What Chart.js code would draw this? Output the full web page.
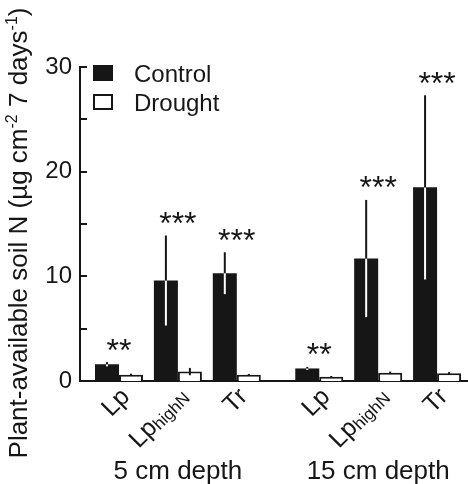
<!DOCTYPE html>
<html>
<head>
<meta charset="utf-8">
<script src="https://cdn.jsdelivr.net/npm/chart.js@4.4.1/dist/chart.umd.min.js"></script>
<style>
  html, body { margin: 0; padding: 0; background: #fff; overflow: hidden; }
  #wrap { width: 468px; height: 484px; }
  canvas { display: block; }
</style>
</head>
<body>
<div id="wrap"><canvas id="chart" width="468" height="484"></canvas></div>
<script>
// plant-available soil N, means and errors
const categories = ['Lp', 'LphighN', 'Tr', 'Lp', 'LphighN', 'Tr'];
const xPositions = [0, 1, 2, 3.4, 4.4, 5.4];
const groups = ['5 cm depth', '15 cm depth'];
const controlMeans = [1.6, 9.6, 10.3, 1.2, 11.7, 18.5];
const controlErr = [0.2, 4.3, 2.0, 0.15, 5.6, 8.8];
const droughtMeans = [0.6, 0.9, 0.6, 0.4, 0.8, 0.75];
const droughtErr = [0.1, 0.35, 0.08, 0.08, 0.1, 0.1];
const significance = ['**', '***', '***', '**', '***', '***'];
const yTicks = [0, 5, 10, 15, 20, 25, 30];

const ink = '#161616';
const font = '"Liberation Sans", Arial, sans-serif';

function line(ctx, x1, y1, x2, y2) {
  ctx.beginPath();
  ctx.moveTo(x1, y1);
  ctx.lineTo(x2, y2);
  ctx.stroke();
}

// draws a row of [text, size, shift] pieces starting at x, returns end x
function drawPieces(ctx, pieces, x, y) {
  pieces.forEach(([text, size, shift]) => {
    ctx.font = size + 'px ' + font;
    ctx.fillText(text, x, y + shift);
    x += ctx.measureText(text).width;
  });
  return x;
}

function piecesWidth(ctx, pieces) {
  let w = 0;
  pieces.forEach(([text, size]) => {
    ctx.font = size + 'px ' + font;
    w += ctx.measureText(text).width;
  });
  return w;
}

const overlay = {
  id: 'overlay',
  afterDatasetsDraw(chart) {
    const { ctx, chartArea, scales: { x, y } } = chart;
    ctx.save();
    ctx.fillStyle = ink;
    ctx.strokeStyle = ink;
    ctx.lineWidth = 2;

    // inward tick marks
    y.ticks.forEach(t => {
      const py = Math.round(y.getPixelForValue(t.value));
      line(ctx, chartArea.left, py, chartArea.left + 7, py);
    });

    // error bars
    chart.getDatasetMeta(0).data.forEach((bar, i) => {
      const hi = y.getPixelForValue(controlMeans[i] + controlErr[i]);
      const lo = y.getPixelForValue(controlMeans[i] - controlErr[i]);
      ctx.strokeStyle = '#fff';
      line(ctx, bar.x, lo, bar.x, bar.y);
      ctx.strokeStyle = ink;
      line(ctx, bar.x, bar.y, bar.x, hi);
    });
    chart.getDatasetMeta(1).data.forEach((bar, i) => {
      const hi = y.getPixelForValue(droughtMeans[i] + droughtErr[i]);
      const lo = y.getPixelForValue(droughtMeans[i] - droughtErr[i]);
      line(ctx, bar.x, lo, bar.x, hi);
    });

    // significance stars
    ctx.textAlign = 'center';
    ctx.textBaseline = 'alphabetic';
    const starSize = 32;
    ctx.font = starSize + 'px ' + font;
    significance.forEach((s, i) => {
      const px = x.getPixelForValue(xPositions[i]);
      const cy = y.getPixelForValue(controlMeans[i] + controlErr[i]) - 20;
      ctx.fillText(s, px, cy + starSize * 0.58);
    });

    // rotated category labels
    ctx.textAlign = 'left';
    ctx.textBaseline = 'middle';
    categories.forEach((c, i) => {
      const px = x.getPixelForValue(xPositions[i]) + 7;
      const pieces = c === 'LphighN'
        ? [['Lp', 25, 0], ['highN', 17, 4]]
        : [[c, 25, 0]];
      const w = piecesWidth(ctx, pieces);
      ctx.save();
      ctx.translate(px, chartArea.bottom + 12);
      ctx.rotate(-Math.PI / 4);
      drawPieces(ctx, pieces, -w, 0);
      ctx.restore();
    });

    // group labels along the bottom edge
    ctx.textAlign = 'center';
    ctx.textBaseline = 'alphabetic';
    ctx.font = '26px ' + font;
    [[0, 2], [3, 5]].forEach(([a, b], g) => {
      const px = (x.getPixelForValue(xPositions[a]) + x.getPixelForValue(xPositions[b])) / 2;
      ctx.fillText(groups[g], px, chart.height - 5);
    });

    // legend
    ctx.textAlign = 'left';
    ctx.font = '24px ' + font;
    chart.data.datasets.forEach((ds, i) => {
      const top = chartArea.top - 2 + i * 29;
      ctx.fillStyle = ds.backgroundColor;
      ctx.fillRect(94, top + 1, 18, 14);
      ctx.strokeStyle = ink;
      ctx.lineWidth = 2;
      ctx.strokeRect(94, top + 1, 18, 14);
      ctx.fillStyle = ink;
      ctx.fillText(ds.label, 134, top + 17);
    });

    // y title with superscripts
    const title = [
      ['Plant-available soil N (\u00b5g cm', 26, 0],
      ['-2', 16, -10],
      [' 7 days', 26, 0],
      ['-1', 16, -10],
      [')', 26, 0]
    ];
    const tw = piecesWidth(ctx, title);
    ctx.save();
    ctx.translate(27, 233);
    ctx.rotate(-Math.PI / 2);
    drawPieces(ctx, title, -tw / 2, 0);
    ctx.restore();

    ctx.restore();
  }
};

new Chart(document.getElementById('chart'), {
  type: 'bar',
  data: {
    datasets: [
      {
        label: 'Control',
        data: xPositions.map((p, i) => ({ x: p, y: controlMeans[i] })),
        backgroundColor: ink,
        borderWidth: 0
      },
      {
        label: 'Drought',
        data: xPositions.map((p, i) => ({ x: p, y: droughtMeans[i] })),
        backgroundColor: '#ffffff',
        borderColor: ink,
        borderWidth: 2
      }
    ]
  },
  options: {
    responsive: false,
    animation: false,
    devicePixelRatio: 1,
    categoryPercentage: 0.815,
    barPercentage: 1,
    layout: { padding: { top: 67, bottom: 103, left: 0, right: 0 } },
    plugins: {
      legend: { display: false },
      tooltip: { enabled: false }
    },
    scales: {
      x: {
        type: 'linear',
        min: -0.662,
        max: 5.925,
        offset: false,
        afterBuildTicks: s => { s.ticks = xPositions.map(v => ({ value: v })); },
        afterFit: s => { s.height = 0; },
        ticks: { display: false },
        grid: { display: false, drawTicks: false, offset: false },
        border: { display: true, color: ink, width: 2 }
      },
      y: {
        min: 0,
        max: 30,
        afterBuildTicks: s => { s.ticks = yTicks.map(v => ({ value: v })); },
        afterFit: s => { s.width = 80; },
        ticks: {
          padding: 8,
          color: ink,
          font: { family: font, size: 24 },
          callback: v => (v % 10 === 0 ? v : '')
        },
        grid: { display: false, drawTicks: false },
        border: { display: true, color: ink, width: 2 }
      }
    }
  },
  plugins: [overlay]
});
</script>
</body>
</html>
